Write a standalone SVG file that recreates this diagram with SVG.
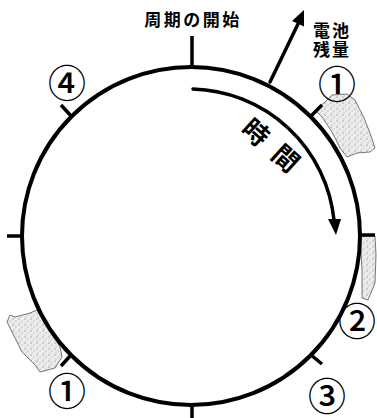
<svg xmlns="http://www.w3.org/2000/svg" width="377" height="418" viewBox="0 0 377 418">
<style>
.ln{fill:none;stroke:#000;stroke-width:3.5;stroke-linecap:round}
.tk{fill:none;stroke:#000;stroke-width:3.5;stroke-linecap:butt}
.lbl{font-family:"Noto Sans CJK JP","Noto Sans",sans-serif;font-weight:bold;fill:#000}
.num{font-family:"Noto Sans CJK JP","DejaVu Sans",sans-serif;font-size:38px;font-weight:500;fill:#000;text-anchor:middle;dominant-baseline:central}
.patch{fill:url(#stip);stroke:#555;stroke-width:0.8}
</style>
<defs>
<pattern id="stip" width="6" height="6" patternUnits="userSpaceOnUse">
<rect width="6" height="6" fill="#ececec"/>
<circle cx="1" cy="1" r="0.6" fill="#666"/>
<circle cx="4" cy="3" r="0.5" fill="#888"/>
<circle cx="2" cy="5" r="0.5" fill="#999"/>
</pattern>
</defs>
<g id="patches">
<polygon class="patch" points="325,102 332,95 347,94 355,100 364,118 370,133 375,148 370,152 357,153 347,157 340,148 332,132 322,117 315,110"/>
<polygon class="patch" points="360,236 375,236 376,255 375,283 368,300 362,298 362,270"/>
<polygon class="patch" points="7,322 10,315 15,317 30,313 37,310 48,328 60,347 62,357 55,368 40,372 35,365 22,352"/>
</g>
<g id="cycle">
<circle cx="191" cy="236" r="169" fill="none" stroke="#000" stroke-width="4"/>
</g>
<g id="ticks">
<line class="tk" x1="192" y1="36" x2="192" y2="67"/>
<line class="tk" x1="192" y1="404" x2="192" y2="418"/>
<line class="tk" x1="7" y1="236" x2="23" y2="236"/>
<line class="tk" x1="359" y1="235" x2="375" y2="235"/>
<line class="tk" x1="61" y1="105" x2="72" y2="117"/>
<line class="tk" x1="310" y1="117" x2="322" y2="105"/>
<line class="tk" x1="71" y1="355" x2="61" y2="366"/>
<line class="tk" x1="311" y1="355" x2="322" y2="364"/>
</g>
<g id="connectors">
<line class="ln" x1="270" y1="82" x2="298" y2="24"/>
<polygon points="304,10 304,26.5 292,21" fill="#000"/>
<path class="ln" d="M 193 89 A 146 146 0 0 1 334 220"/>
<polygon points="328,219 341,219 336,235" fill="#000"/>
</g>
<g id="label-start">
<text class="lbl" x="193" y="26" font-size="17" letter-spacing="2.5" text-anchor="middle">周期の開始</text>
</g>
<g id="label-battery">
<text class="lbl" x="313" y="37" font-size="17" letter-spacing="2">電池</text>
<text class="lbl" x="313" y="56" font-size="17" letter-spacing="2">残量</text>
</g>
<g id="label-time">
<text class="lbl" font-size="26" transform="translate(257,131) rotate(42)" text-anchor="middle" dominant-baseline="central">時</text>
<text class="lbl" font-size="26" transform="translate(287,157) rotate(42)" text-anchor="middle" dominant-baseline="central">間</text>
</g>
<g id="nums">
<text class="num" x="337" y="81">①</text>
<text class="num" x="67" y="80">④</text>
<text class="num" x="67" y="388">①</text>
<text class="num" x="357" y="318">②</text>
<text class="num" x="327" y="393">③</text>
</g>
</svg>
